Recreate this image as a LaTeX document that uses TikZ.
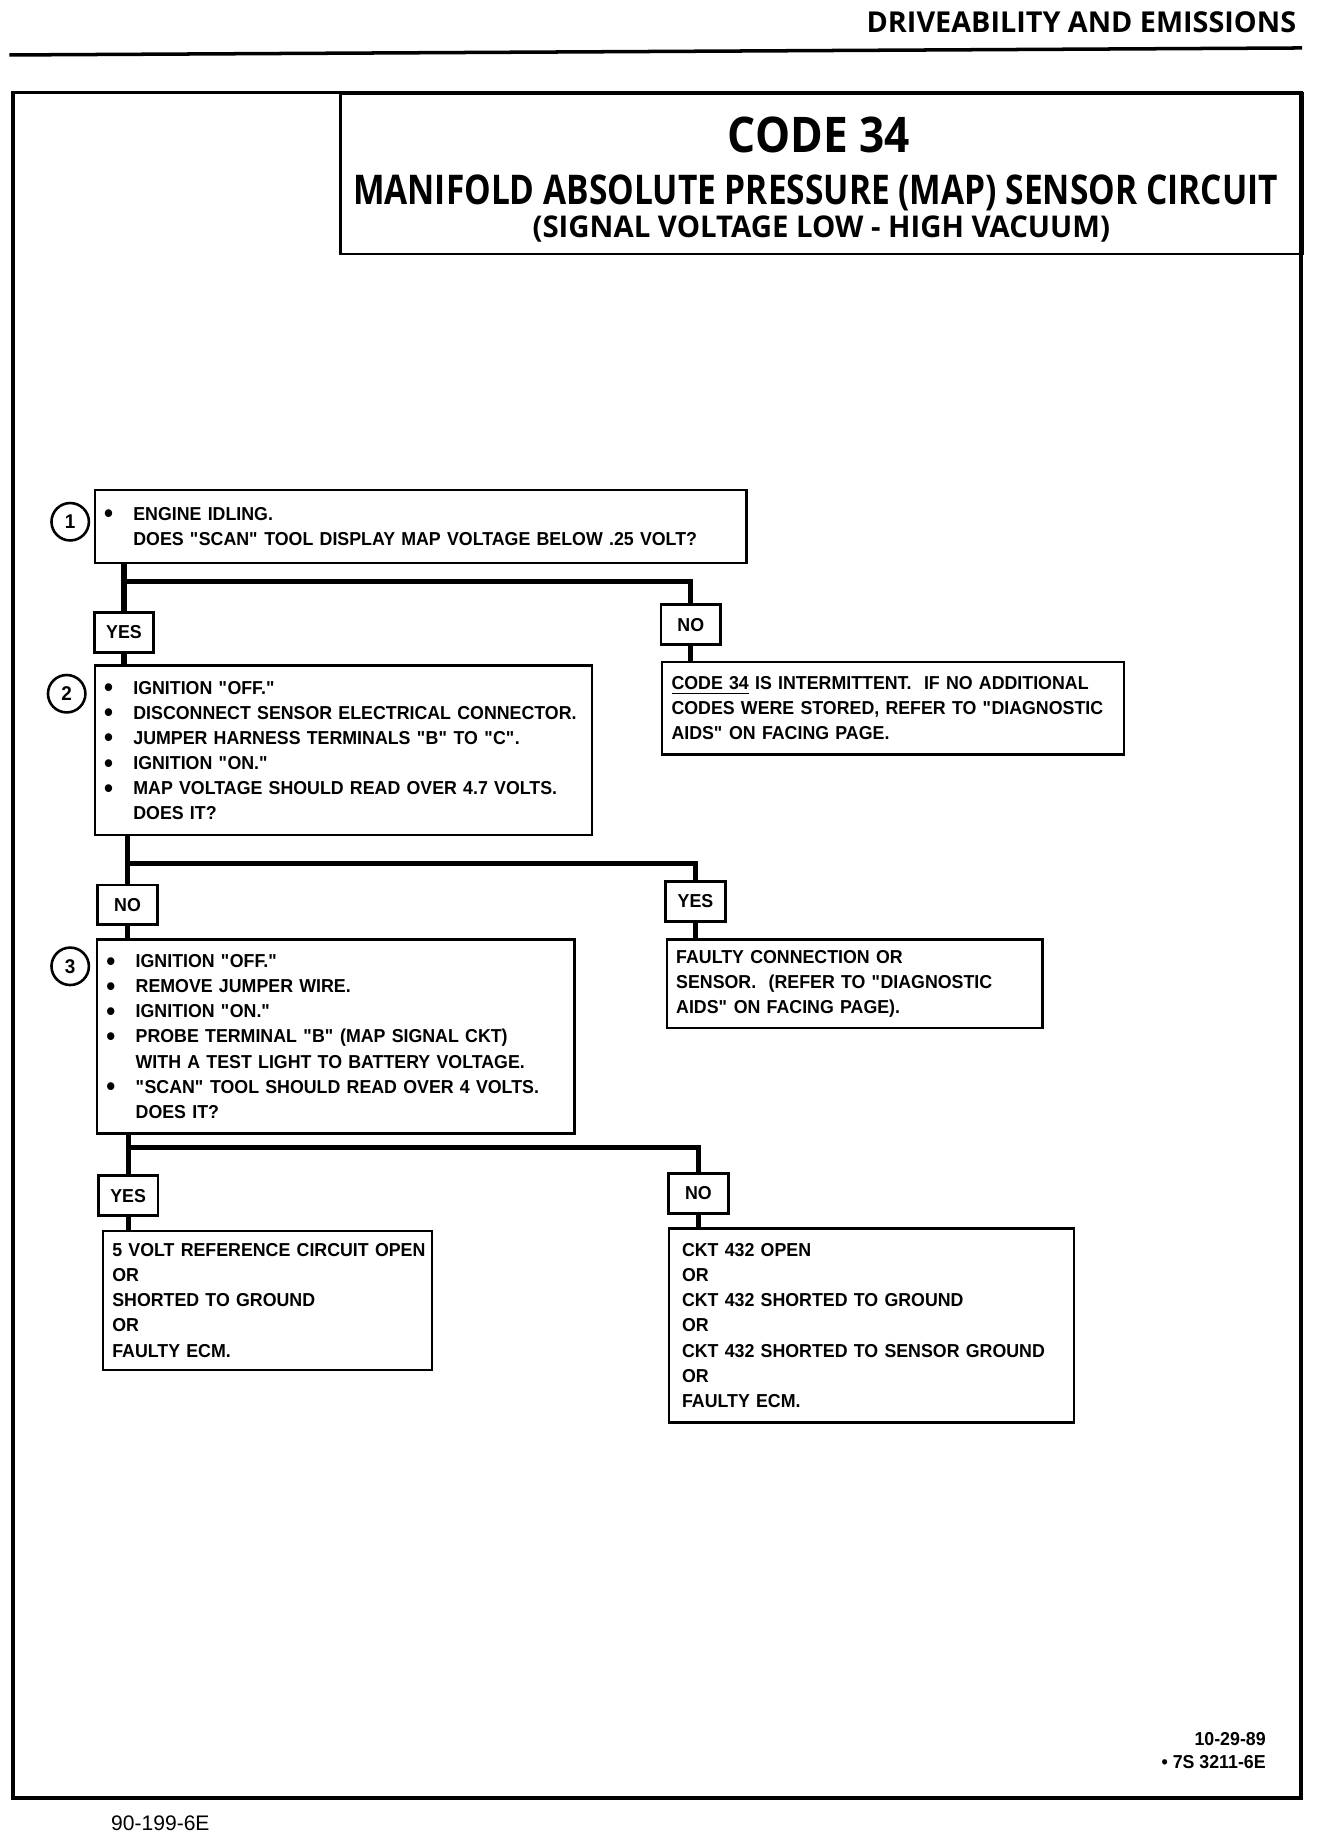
\documentclass[tikz,border=0pt]{standalone}
\usepackage{fontspec}
\setmainfont{Liberation Sans}
\newfontfamily\bodyfont{Liberation Sans}[FakeStretch=0.95]
\newfontfamily\headfont{Open Sans}
\newfontfamily\codefont{Open Sans}[FakeStretch=0.9]
\newfontfamily\titlefont{Open Sans}[FakeStretch=0.818]
\newfontfamily\subfont{Open Sans}[FakeStretch=0.98]
\usetikzlibrary{calc}

\newcommand\bdot{\makebox[12.5pt][l]{\raisebox{-1.1pt}{\fontsize{11.5}{0}\selectfont\textbullet}}}
\newcommand\bul[1]{\bdot\mbox{#1}}
\newcommand\ind[1]{\hspace*{12.5pt}\mbox{#1}}
\newcommand\qq[1]{\textquotedbl#1\textquotedbl}

\begin{document}
\begin{tikzpicture}[x=0.5pt,y=-0.5pt,
  box/.style={draw,line width=1pt,anchor=north west,align=left,inner xsep=4pt,inner ysep=0pt,
    font=\bodyfont\bfseries\fontsize{8}{10.75}\selectfont},
  answer/.style={draw,line width=1.2pt,minimum width=25.5pt,minimum height=17pt,inner sep=0pt,
    font=\bodyfont\bfseries\fontsize{8}{8}\selectfont},
  num/.style={draw,circle,line width=1.1pt,minimum size=16pt,inner sep=0pt,
    font=\bodyfont\bfseries\fontsize{8.5}{8}\selectfont},
  conn/.style={line width=2.2pt}]
\useasboundingbox (0,0) rectangle (1135,1566);

% page head and frame
\node[anchor=base east,font=\headfont\bfseries\fontsize{12.3}{12}\selectfont] (head) at (1115,28) {DRIVEABILITY AND EMISSIONS};
\draw[line width=1.5pt] (8,47) -- (1113,41);
\draw[line width=1.6pt] (11,79) rectangle (1112,1537);
\node[draw,line width=1.2pt,anchor=north west,minimum width=411pt,minimum height=68.5pt] (titlebox) at (290,79) {};
\node[anchor=base,font=\codefont\bfseries\fontsize{21}{21}\selectfont] (code) at (700,130) {CODE 34};
\node[anchor=base,font=\titlefont\bfseries\fontsize{17.5}{18}\selectfont] (circuit) at (697,175) {MANIFOLD ABSOLUTE PRESSURE (MAP) SENSOR CIRCUIT};
\node[anchor=base,font=\subfont\bfseries\fontsize{12.8}{12}\selectfont] (signal) at (702,203) {(SIGNAL VOLTAGE LOW - HIGH VACUUM)};

% step 1
\node[box,minimum width=278.5pt,minimum height=31pt,text width=270.5pt] (q1) at (80,418)
  {\bul{ENGINE IDLING.}\\\ind{DOES \qq{SCAN} TOOL DISPLAY MAP VOLTAGE BELOW .25 VOLT?}};
\node[num] (num1) at (60,446) {1};
\node[answer] (yes1) at (106,540.5) {YES};
\node[answer] (no1) at (590.5,534) {NO};
\node[box,minimum width=197.5pt,minimum height=39.5pt,text width=189.5pt] (r1) at (565,565)
  {\mbox{\underline{CODE 34} IS INTERMITTENT.\ \ IF NO ADDITIONAL}\\
   \mbox{CODES WERE STORED, REFER TO \textquotedbl DIAGNOSTIC}\\
   \mbox{AIDS\textquotedbl\ ON FACING PAGE.}};

% step 2
\node[box,minimum width=212.5pt,minimum height=72.5pt,text width=204.5pt] (q2) at (80,568)
  {\bul{IGNITION \qq{OFF.}}\\
   \bul{DISCONNECT SENSOR ELECTRICAL CONNECTOR.}\\
   \bul{JUMPER HARNESS TERMINALS \qq{B} TO \qq{C}.}\\
   \bul{IGNITION \qq{ON.}}\\
   \bul{MAP VOLTAGE SHOULD READ OVER 4.7 VOLTS.}\\
   \ind{DOES IT?}};
\node[num] (num2) at (57,593) {2};
\node[answer] (no2) at (109,773.5) {NO};
\node[answer] (yes2) at (594.5,770.5) {YES};
\node[box,minimum width=160.5pt,minimum height=38pt,text width=152.5pt] (r2) at (569,802)
  {\mbox{FAULTY CONNECTION OR}\\
   \mbox{SENSOR.\ \ (REFER TO \textquotedbl DIAGNOSTIC}\\
   \mbox{AIDS\textquotedbl\ ON FACING PAGE).}};

% step 3
\node[box,minimum width=204pt,minimum height=83pt,text width=196pt] (q3) at (82,802)
  {\bul{IGNITION \qq{OFF.}}\\
   \bul{REMOVE JUMPER WIRE.}\\
   \bul{IGNITION \qq{ON.}}\\
   \bul{PROBE TERMINAL \qq{B} (MAP SIGNAL CKT)}\\
   \ind{WITH A TEST LIGHT TO BATTERY VOLTAGE.}\\
   \bul{\qq{SCAN} TOOL SHOULD READ OVER 4 VOLTS.}\\
   \ind{DOES IT?}};
\node[num] (num3) at (60,826) {3};
\node[answer] (yes3) at (109.5,1022) {YES};
\node[answer] (no3) at (597,1020) {NO};
\node[box,minimum width=140.5pt,minimum height=59.5pt,text width=132.5pt] (r3) at (87,1051)
  {\mbox{5 VOLT REFERENCE CIRCUIT OPEN}\\ OR\\ \mbox{SHORTED TO GROUND}\\ OR\\ \mbox{FAULTY ECM.}};
\node[box,minimum width=170pt,minimum height=83pt,text width=162pt,inner xsep=5.5pt] (r4) at (571,1049)
  {\mbox{CKT 432 OPEN}\\ OR\\ \mbox{CKT 432 SHORTED TO GROUND}\\ OR\\
   \mbox{CKT 432 SHORTED TO SENSOR GROUND}\\ OR\\ \mbox{FAULTY ECM.}};

% connectors
\coordinate (br1) at (0,497);
\coordinate (br2) at (0,738);
\coordinate (br3) at (0,981);
\draw[conn] (q1.south -| yes1.north) -- (yes1.north);
\draw[conn] (yes1.north |- br1) -| (no1.north);
\draw[conn] (yes1.south) -- (yes1.south |- q2.north);
\draw[conn] (no1.south) -- (no1.south |- r1.north);
\draw[conn] (q2.south -| no2.north) -- (no2.north);
\draw[conn] (no2.north |- br2) -| (yes2.north);
\draw[conn] (no2.south) -- (no2.south |- q3.north);
\draw[conn] (yes2.south) -- (yes2.south |- r2.north);
\draw[conn] (q3.south -| yes3.north) -- (yes3.north);
\draw[conn] (yes3.north |- br3) -| (no3.north);
\draw[conn] (yes3.south) -- (yes3.south |- r3.north);
\draw[conn] (no3.south) -- (no3.south |- r4.north);

% foot
\node[anchor=base east,font=\bodyfont\bfseries\fontsize{8}{8}\selectfont] (date) at (1089,1492) {10-29-89};
\node[anchor=base east,font=\bodyfont\bfseries\fontsize{8}{8}\selectfont] (ref) at (1089,1512) {\textbullet\ 7S 3211-6E};
\node[anchor=base west,font=\fontsize{9}{9}\selectfont] (page) at (88,1565) {90-199-6E};
\end{tikzpicture}
\end{document}
